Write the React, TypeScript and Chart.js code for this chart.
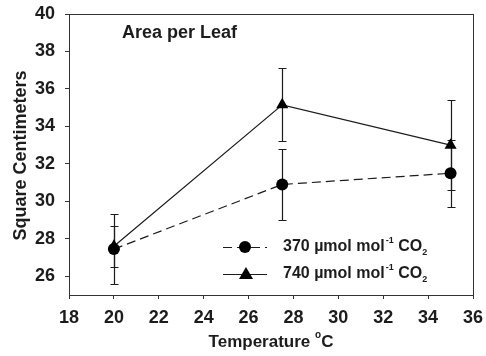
import React, { useEffect, useRef } from "react";
import { Chart, registerables } from "chart.js";

Chart.register(...registerables);

const temperatures = [20, 27.5, 35];
const area370 = [27.45, 30.9, 31.5];
const err370 = [1.85, 1.9, 1.8];
const area740 = [27.6, 35.15, 33.0];
const err740 = [1.1, 1.95, 2.4];

const xTicks = [18, 20, 22, 24, 26, 28, 30, 32, 34, 36];
const yTicks = [26, 28, 30, 32, 34, 36, 38, 40];

const FONT = '"Liberation Sans", Arial, sans-serif';
const INK = "#1c1c1c";

const errorBarPlugin = {
  id: "errorBars",
  beforeDatasetsDraw(chart: any) {
    const { ctx, scales } = chart;
    const sets = [
      { v: area370, e: err370 },
      { v: area740, e: err740 },
    ];
    ctx.save();
    ctx.strokeStyle = INK;
    ctx.lineWidth = 1.2;
    sets.forEach((s) => {
      temperatures.forEach((t, i) => {
        const x = Math.round(scales.x.getPixelForValue(t)) + 0.5;
        const yTop = Math.round(scales.y.getPixelForValue(s.v[i] + s.e[i])) + 0.5;
        const yBot = Math.round(scales.y.getPixelForValue(s.v[i] - s.e[i])) + 0.5;
        ctx.beginPath();
        ctx.moveTo(x, yTop);
        ctx.lineTo(x, yBot);
        ctx.moveTo(x - 4, yTop);
        ctx.lineTo(x + 4, yTop);
        ctx.moveTo(x - 4, yBot);
        ctx.lineTo(x + 4, yBot);
        ctx.stroke();
      });
    });
    ctx.restore();
  },
};

function drawLegendLabel(ctx: any, x: number, y: number, prefix: string) {
  ctx.textBaseline = "middle";
  ctx.textAlign = "left";
  ctx.font = `bold 16px ${FONT}`;
  let cx = x;
  const main = `${prefix} µmol mol`;
  ctx.fillText(main, cx, y);
  cx += ctx.measureText(main).width;
  ctx.font = `bold 9px ${FONT}`;
  ctx.fillText("-1", cx + 1, y - 6);
  cx += ctx.measureText("-1").width + 1;
  ctx.font = `bold 16px ${FONT}`;
  ctx.fillText(" CO", cx, y);
  cx += ctx.measureText(" CO").width;
  ctx.font = `bold 9px ${FONT}`;
  ctx.fillText("2", cx, y + 6);
}

const annotationPlugin = {
  id: "annotations",
  afterDraw(chart: any) {
    const { ctx, chartArea } = chart;
    ctx.save();
    // frame
    ctx.strokeStyle = "#333";
    ctx.lineWidth = 1;
    ctx.strokeRect(
      Math.round(chartArea.left) + 0.5,
      Math.round(chartArea.top) + 0.5,
      Math.round(chartArea.right - chartArea.left),
      Math.round(chartArea.bottom - chartArea.top)
    );
    ctx.fillStyle = INK;
    // inner title
    ctx.font = `bold 18px ${FONT}`;
    ctx.textAlign = "left";
    ctx.textBaseline = "middle";
    ctx.fillText("Area per Leaf", 122, 33);
    // y title
    ctx.save();
    ctx.translate(21, (chartArea.top + chartArea.bottom) / 2 + 1);
    ctx.rotate(-Math.PI / 2);
    ctx.textAlign = "center";
    ctx.font = `bold 18px ${FONT}`;
    ctx.fillText("Square Centimeters", 0, 0);
    ctx.restore();
    // x title
    ctx.font = `bold 17px ${FONT}`;
    const t1 = "Temperature ";
    const w1 = ctx.measureText(t1).width;
    ctx.font = `bold 10px ${FONT}`;
    const w2 = ctx.measureText("o").width;
    ctx.font = `bold 17px ${FONT}`;
    const w3 = ctx.measureText("C").width;
    const total = w1 + w2 + w3;
    let cx = (chartArea.left + chartArea.right) / 2 - total / 2;
    ctx.textAlign = "left";
    ctx.fillText(t1, cx, 342);
    cx += w1;
    ctx.font = `bold 10px ${FONT}`;
    ctx.fillText("o", cx, 335);
    cx += w2;
    ctx.font = `bold 17px ${FONT}`;
    ctx.fillText("C", cx, 342);
    // legend
    const rows = [
      { y: 247, label: "370", dash: [9, 5], style: "circle", r: 6 },
      { y: 274, label: "740", dash: [], style: "triangle", r: 7 },
    ];
    rows.forEach((row) => {
      ctx.strokeStyle = INK;
      ctx.lineWidth = 1.2;
      ctx.setLineDash(row.dash);
      ctx.beginPath();
      ctx.moveTo(223, row.y + 0.5);
      ctx.lineTo(267, row.y + 0.5);
      ctx.stroke();
      ctx.setLineDash([]);
      ctx.fillStyle = "#000";
      ctx.beginPath();
      if (row.style === "circle") {
        ctx.arc(245, row.y, row.r, 0, Math.PI * 2);
      } else {
        const r = row.r;
        ctx.moveTo(246, row.y - r);
        ctx.lineTo(246 + r, row.y + r * 0.7);
        ctx.lineTo(246 - r, row.y + r * 0.7);
        ctx.closePath();
      }
      ctx.fill();
      ctx.fillStyle = INK;
      drawLegendLabel(ctx, 283, row.y, row.label);
    });
    ctx.restore();
  },
};

export default function App() {
  const canvasRef = useRef<HTMLCanvasElement | null>(null);

  useEffect(() => {
    document.body.style.margin = "0";
    const canvas = canvasRef.current;
    if (!canvas) return;
    const chart = new Chart(canvas, {
      type: "line",
      data: {
        datasets: [
          {
            label: "370 µmol mol⁻¹ CO₂",
            data: temperatures.map((t, i) => ({ x: t, y: area370[i] })),
            borderColor: INK,
            backgroundColor: "#000",
            borderWidth: 1.2,
            borderDash: [9, 5],
            pointStyle: "circle",
            pointRadius: 6,
            pointBorderWidth: 0,
            pointBackgroundColor: "#000",
            tension: 0,
          },
          {
            label: "740 µmol mol⁻¹ CO₂",
            data: temperatures.map((t, i) => ({ x: t, y: area740[i] })),
            borderColor: INK,
            backgroundColor: "#000",
            borderWidth: 1.2,
            pointStyle: "triangle",
            pointRadius: 7,
            pointBorderWidth: 0,
            pointBackgroundColor: "#000",
            tension: 0,
          },
        ],
      },
      options: {
        animation: false,
        responsive: true,
        maintainAspectRatio: false,
        layout: { padding: { top: 14, right: 13, left: 0, bottom: 0 } },
        plugins: {
          legend: { display: false },
          tooltip: { enabled: false },
        },
        scales: {
          x: {
            type: "linear",
            min: 18,
            max: 36,
            afterBuildTicks: (scale: any) => {
              scale.ticks = xTicks.map((v) => ({ value: v }));
            },
            afterFit: (scale: any) => {
              scale.height = 61;
              scale.paddingLeft = 0;
              scale.paddingRight = 0;
            },
            grid: {
              display: true,
              drawOnChartArea: false,
              drawTicks: true,
              tickLength: 4,
              color: "#333",
            },
            border: { display: false },
            ticks: {
              color: INK,
              padding: 8,
              maxRotation: 0,
              autoSkip: false,
              font: { family: FONT, size: 18, weight: "bold" },
            },
          },
          y: {
            type: "linear",
            min: 25,
            max: 40,
            afterBuildTicks: (scale: any) => {
              scale.ticks = yTicks.map((v) => ({ value: v }));
            },
            afterFit: (scale: any) => {
              scale.width = 69;
              scale.paddingTop = 0;
              scale.paddingBottom = 0;
            },
            grid: {
              display: true,
              drawOnChartArea: false,
              drawTicks: true,
              tickLength: 4,
              color: "#333",
            },
            border: { display: false },
            ticks: {
              color: INK,
              padding: 10,
              autoSkip: false,
              font: { family: FONT, size: 18, weight: "bold" },
            },
          },
        },
      },
      plugins: [errorBarPlugin, annotationPlugin],
    } as any);
    return () => chart.destroy();
  }, []);

  return (
    <div style={{ position: "fixed", left: 0, top: 0, width: 486, height: 356, background: "#fff" }}>
      <canvas ref={canvasRef} />
    </div>
  );
}
